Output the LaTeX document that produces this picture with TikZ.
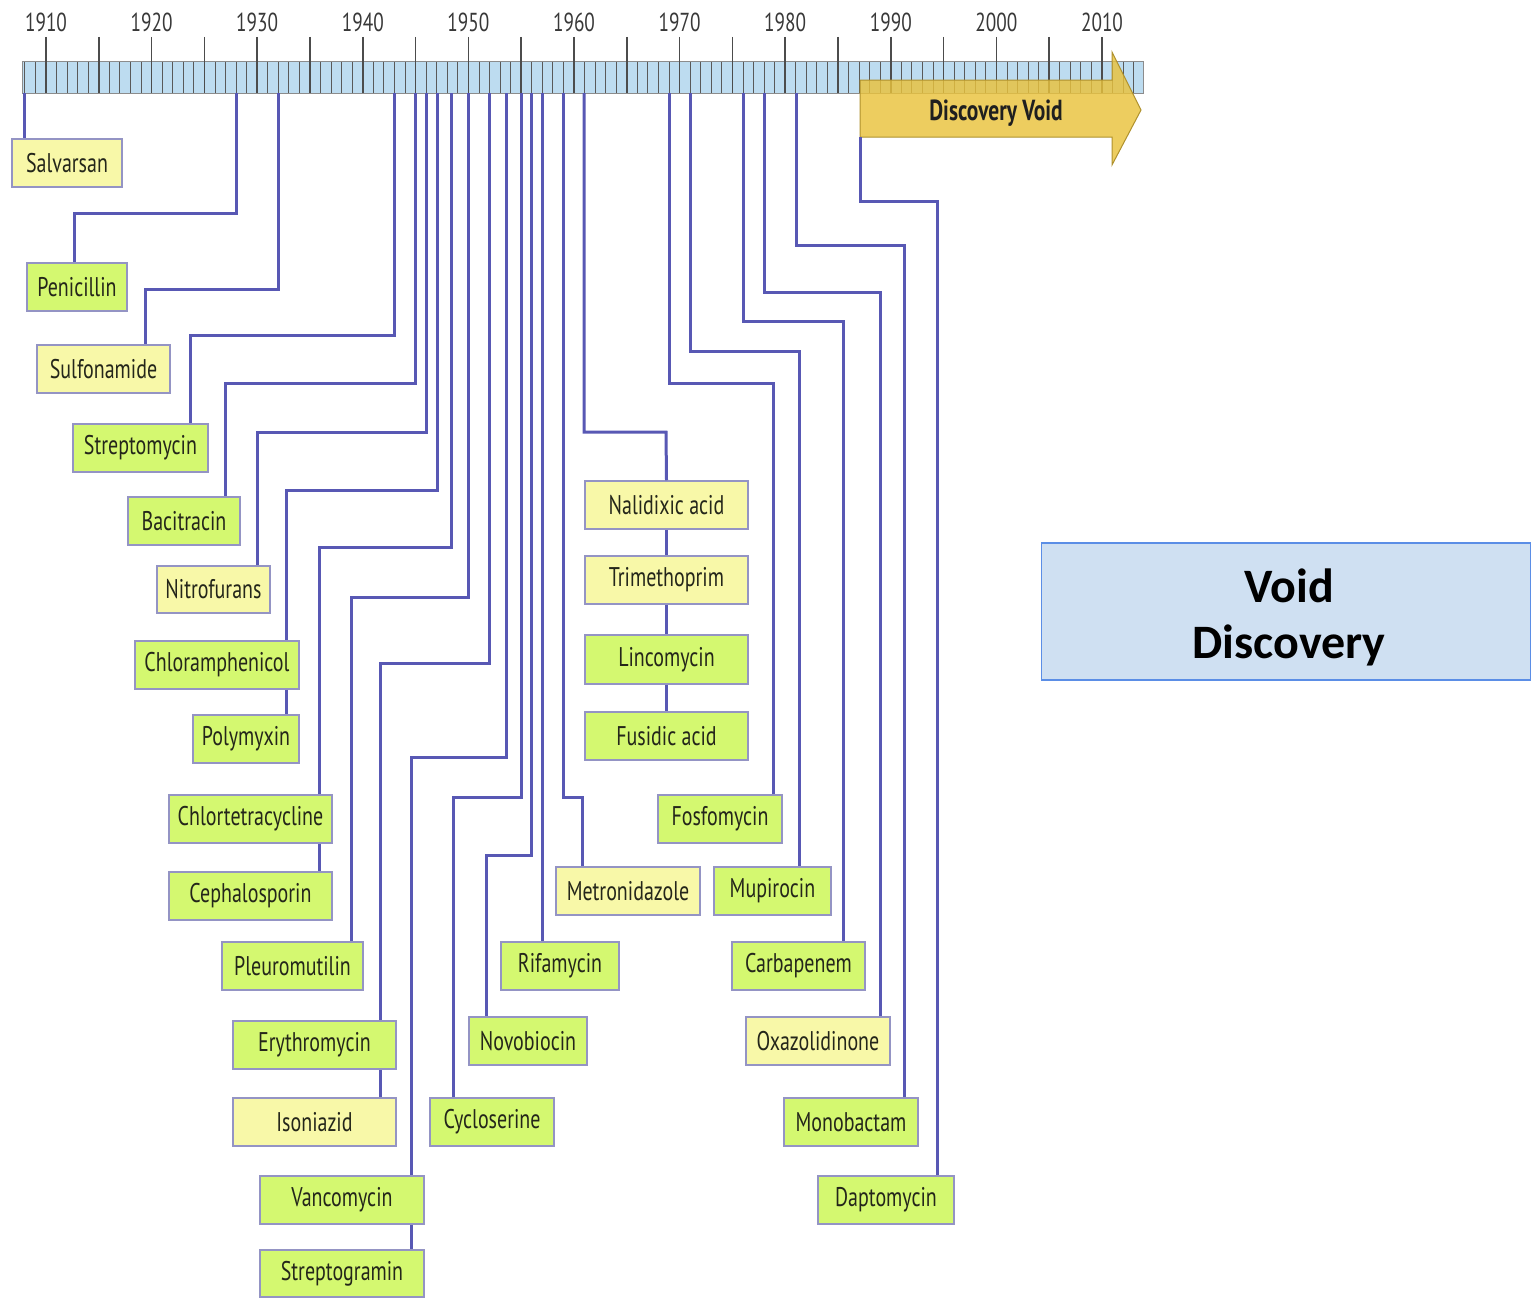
\documentclass[tikz,border=0pt]{standalone}
\usepackage{fontspec}
\newfontfamily\labfont[FakeStretch=0.74]{PT Sans}
\newfontfamily\calfont{Carlito}
\definecolor{wirec}{HTML}{5858B4}
\definecolor{boxline}{HTML}{9494C4}
\definecolor{ylw}{HTML}{F8F8A8}
\definecolor{grn}{HTML}{D4F870}
\definecolor{txt}{HTML}{24261A}
\definecolor{barfill}{HTML}{BDDCF0}
\definecolor{gold}{HTML}{E9C23C}
\definecolor{vdfill}{HTML}{CFE0F2}
\definecolor{vdline}{HTML}{5B8EE6}
\tikzset{
  drug/.style={draw=boxline, line width=1.5pt, inner sep=0pt, text=txt,
    font=\labfont\fontsize{27}{27}\selectfont},
  ybox/.style={drug, fill=ylw},
  gbox/.style={drug, fill=grn},
  wire/.style={draw=wirec, line width=3pt},
  minortick/.style={draw=black!65, line width=0.9pt},
  majortick/.style={draw=black!70, line width=1.6pt},
  yearlab/.style={text=black!78, font=\labfont\fontsize{26}{26}\selectfont},
}
\newcommand\drugbox[7]{\node[#6, minimum width={#4-#2}, minimum height={#5-#3}] (#1) at ({(#2+#4)/2},{(#3+#5)/2}) {#7};}
\begin{document}
\begin{tikzpicture}[x=1pt,y=-1pt]
\useasboundingbox (0,0) rectangle (1531,1298);
% timeline bar
\draw[fill=barfill, draw=black!45, line width=1pt] (22,62) rectangle (1143,93);
\foreach \yr in {1908,...,2013} \draw[minortick] ({46+10.56*(\yr-1910)},62) -- ++(0,31);
\foreach \yr in {1910,1915,...,2010} \draw[majortick] ({46+10.56*(\yr-1910)},37) -- ({46+10.56*(\yr-1910)},93);
\foreach \yr in {1910,1920,...,2010} \node[yearlab] at ({46+10.56*(\yr-1910)},22) {\yr};
% discovery void arrow
\draw[fill=gold, fill opacity=0.82, draw=gold!75!black, line width=1pt]
  (860,80) -- (1112,80) -- (1112,52) -- (1141,110) -- (1112,165) -- (1112,137) -- (860,137) -- cycle;
\node[text=black!88, font=\labfont\bfseries\fontsize{29}{29}\selectfont] (dv) at (996,113) {Discovery Void};
\coordinate (arrbot) at (860,137);
% boxes
\drugbox{sal}{12}{139}{122}{187}{ybox}{Salvarsan}
\drugbox{pen}{27}{263}{127}{311}{gbox}{Penicillin}
\drugbox{sul}{37}{345}{170}{393}{ybox}{Sulfonamide}
\drugbox{str}{73}{424}{208}{472}{gbox}{Streptomycin}
\drugbox{bac}{128}{497}{240}{545}{gbox}{Bacitracin}
\drugbox{nit}{157}{566}{270}{613}{ybox}{Nitrofurans}
\drugbox{chl}{135}{641}{299}{689}{gbox}{Chloramphenicol}
\drugbox{pol}{193}{715}{299}{763}{gbox}{Polymyxin}
\drugbox{cht}{169}{795}{332}{843}{gbox}{Chlortetracycline}
\drugbox{cep}{169}{872}{332}{920}{gbox}{Cephalosporin}
\drugbox{ple}{222}{942}{363}{990}{gbox}{Pleuromutilin}
\drugbox{ery}{233}{1021}{396}{1069}{gbox}{Erythromycin}
\drugbox{iso}{233}{1098}{396}{1146}{ybox}{Isoniazid}
\drugbox{van}{260}{1176}{424}{1224}{gbox}{Vancomycin}
\drugbox{stg}{260}{1250}{424}{1297}{gbox}{Streptogramin}
\drugbox{cyc}{430}{1098}{554}{1146}{gbox}{Cycloserine}
\drugbox{nov}{469}{1017}{587}{1065}{gbox}{Novobiocin}
\drugbox{rif}{501}{942}{619}{990}{gbox}{Rifamycin}
\drugbox{met}{556}{867}{700}{915}{ybox}{Metronidazole}
\drugbox{nal}{585}{481}{748}{529}{ybox}{Nalidixic acid}
\drugbox{tri}{585}{556}{748}{604}{ybox}{Trimethoprim}
\drugbox{lin}{585}{635}{748}{684}{gbox}{Lincomycin}
\drugbox{fus}{585}{712}{748}{760}{gbox}{Fusidic acid}
\drugbox{fos}{658}{795}{782}{843}{gbox}{Fosfomycin}
\drugbox{mup}{714}{867}{831}{915}{gbox}{Mupirocin}
\drugbox{car}{732}{942}{865}{990}{gbox}{Carbapenem}
\drugbox{oxa}{746}{1017}{890}{1065}{ybox}{Oxazolidinone}
\drugbox{mon}{784}{1098}{918}{1146}{gbox}{Monobactam}
\drugbox{dap}{818}{1176}{954}{1224}{gbox}{Daptomycin}
% connector points on the bar
\foreach \n/\xx in {1/24,2/236,3/278,4/394,5/415,6/426,7/437,9/451,11/468,12/489,14/506,16/521,17/531,18/542,19/563,20/584,24/669,25/690,26/743,27/764,28/796}
  \coordinate (b\n) at (\xx,93);
\coordinate (h2) at (74,213);
\coordinate (h3) at (145,289);
\coordinate (h4) at (190,335);
\coordinate (h5) at (225,383);
\coordinate (h6) at (257,432);
\coordinate (h7) at (286,490);
\coordinate (h9) at (319,547);
\coordinate (h11) at (351,597);
\coordinate (h12) at (380,663);
\coordinate (h14) at (411,757);
\coordinate (h16) at (453,797);
\coordinate (h17) at (486,855);
\coordinate (h19) at (582,797);
\coordinate (h20) at (666,432);
\coordinate (h24) at (773,383);
\coordinate (h25) at (799,351);
\coordinate (h26) at (843,321);
\coordinate (h27) at (880,292);
\coordinate (h28) at (904,245);
\coordinate (h29) at (937,201);
% connectors
\draw[wire] (b1) -- (b1 |- sal.north);
\draw[wire] (b2) |- (h2) -- (h2 |- pen.north);
\draw[wire] (b3) |- (h3) -- (h3 |- sul.north);
\draw[wire] (b4) |- (h4) -- (h4 |- str.north);
\draw[wire] (b5) |- (h5) -- (h5 |- bac.north);
\draw[wire] (b6) |- (h6) -- (h6 |- nit.north);
\draw[wire] (b7) |- (h7) -- (h7 |- chl.north);
\draw[wire] (h7 |- chl.south) -- (h7 |- pol.north);
\draw[wire] (b9) |- (h9) -- (h9 |- cht.north);
\draw[wire] (h9 |- cht.south) -- (h9 |- cep.north);
\draw[wire] (b11) |- (h11) -- (h11 |- ple.north);
\draw[wire] (b12) |- (h12) -- (h12 |- ery.north);
\draw[wire] (h12 |- ery.south) -- (h12 |- iso.north);
\draw[wire] (b14) |- (h14) -- (h14 |- van.north);
\draw[wire] (h14 |- van.south) -- (h14 |- stg.north);
\draw[wire] (b16) |- (h16) -- (h16 |- cyc.north);
\draw[wire] (b17) |- (h17) -- (h17 |- nov.north);
\draw[wire] (b18) -- (b18 |- rif.north);
\draw[wire] (b19) |- (h19) -- (h19 |- met.north);
\draw[wire] (b20) |- (h20) -- (nal.north);
\draw[wire] (nal.south) -- (tri.north);
\draw[wire] (tri.south) -- (lin.north);
\draw[wire] (lin.south) -- (fus.north);
\draw[wire] (b24) |- (h24) -- (h24 |- fos.north);
\draw[wire] (b25) |- (h25) -- (h25 |- mup.north);
\draw[wire] (b26) |- (h26) -- (h26 |- car.north);
\draw[wire] (b27) |- (h27) -- (h27 |- oxa.north);
\draw[wire] (b28) |- (h28) -- (h28 |- mon.north);
\draw[wire] (arrbot) |- (h29) -- (h29 |- dap.north);
% void discovery box
\node[draw=vdline, fill=vdfill, line width=1.5pt, minimum width=489, minimum height=137, inner sep=0pt] (vd) at (1286,611.5) {};
\node[align=center, font=\calfont\bfseries\fontsize{48}{56}\selectfont, text=black] (vdt) at (1289,617) {Void\\Discovery};
\end{tikzpicture}
\end{document}
